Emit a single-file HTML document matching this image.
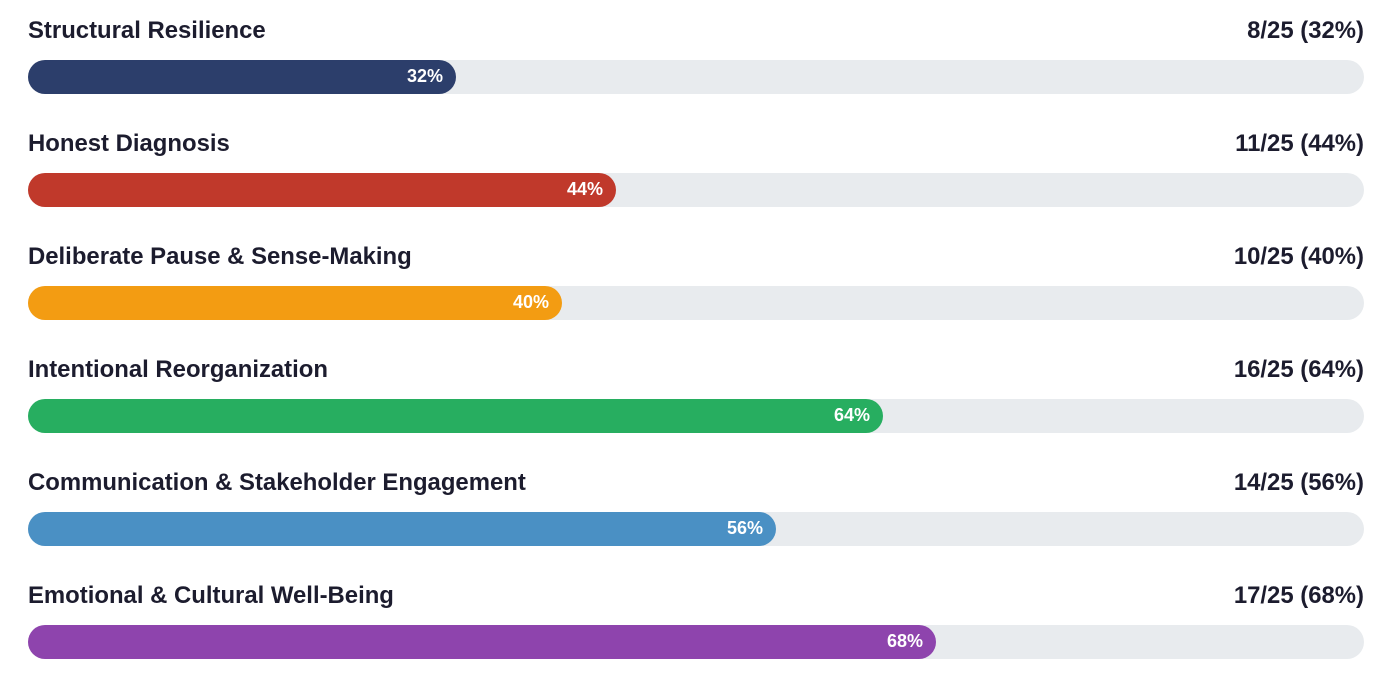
<!DOCTYPE html>
<html><head><style>
body{margin:0;width:1394px;height:683px;background:#fff;font-family:"Liberation Sans",Arial,sans-serif;overflow:hidden;position:relative}
.row{position:absolute;left:28px;width:1336px;height:100px}
.lab{position:absolute;left:0;top:1px;font-size:23.9px;font-weight:bold;color:#1c1c2e;line-height:26px}
.val{position:absolute;right:0;top:1px;font-size:23.9px;font-weight:bold;color:#1c1c2e;line-height:26px}
.track{position:absolute;left:0;top:43px;width:1336px;height:34px;border-radius:17px;background:#e8ebee}
.fill{position:absolute;left:0;top:0;height:34px;border-radius:17px;color:#fff;font-size:18px;font-weight:bold;text-align:right;line-height:33px;box-sizing:border-box;padding-right:13px}
</style></head><body>
<div class="row" style="top:17px"><div class="lab">Structural Resilience</div><div class="val">8/25 (32%)</div><div class="track"><div class="fill" style="width:428px;background:#2c3e6b">32%</div></div></div>
<div class="row" style="top:130px"><div class="lab">Honest Diagnosis</div><div class="val">11/25 (44%)</div><div class="track"><div class="fill" style="width:588px;background:#c0392b">44%</div></div></div>
<div class="row" style="top:243px"><div class="lab">Deliberate Pause &amp; Sense-Making</div><div class="val">10/25 (40%)</div><div class="track"><div class="fill" style="width:534px;background:#f39c12">40%</div></div></div>
<div class="row" style="top:356px"><div class="lab">Intentional Reorganization</div><div class="val">16/25 (64%)</div><div class="track"><div class="fill" style="width:855px;background:#27ae60">64%</div></div></div>
<div class="row" style="top:469px"><div class="lab">Communication &amp; Stakeholder Engagement</div><div class="val">14/25 (56%)</div><div class="track"><div class="fill" style="width:748px;background:#4a90c4">56%</div></div></div>
<div class="row" style="top:582px"><div class="lab">Emotional &amp; Cultural Well-Being</div><div class="val">17/25 (68%)</div><div class="track"><div class="fill" style="width:908px;background:#8e44ad">68%</div></div></div>
</body></html>
